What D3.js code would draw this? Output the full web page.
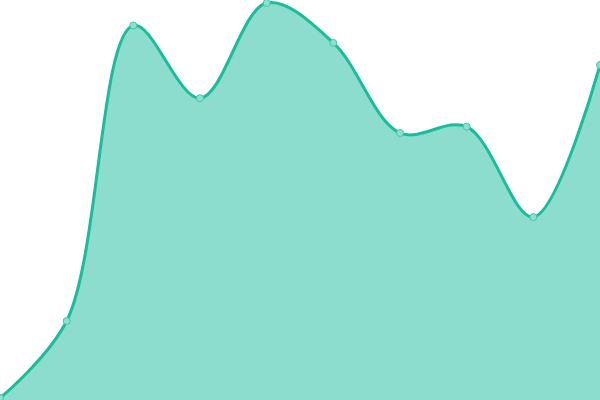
<!DOCTYPE html>
<html>
<head>
<meta charset="utf-8">
<script src="https://cdn.jsdelivr.net/npm/d3@7"></script>
<style>
  html, body { margin: 0; padding: 0; background: #fff; }
  svg { display: block; }
</style>
</head>
<body>
<div id="chart"></div>
<script>
const labels = [0, 1, 2, 3, 4, 5, 6, 7, 8, 9];
const values = [0, 19.5, 94.3, 75.9, 100, 89.9, 67.1, 68.7, 45.8, 84.3];

const width = 600,
    height = 400;

const data = labels.map((d, i) => ({ label: d, value: values[i] }));

const x = d3.scaleLinear()
    .domain([0, labels.length - 1])
    .range([0, width]);

const y = d3.scaleLinear()
    .domain([0, 100])
    .range([398, 3]);

const svg = d3.select('#chart')
    .append('svg')
    .attr('width', width)
    .attr('height', height);

const area = d3.area()
    .x(d => x(d.label))
    .y0(height)
    .y1(d => y(d.value))
    .curve(d3.curveCatmullRom);

const line = d3.line()
    .x(d => x(d.label))
    .y(d => y(d.value))
    .curve(d3.curveCatmullRom);

svg.append('path')
    .datum(data)
    .attr('d', area)
    .attr('fill', '#1abc9c')
    .attr('fill-opacity', 0.5);

svg.append('path')
    .datum(data)
    .attr('d', line)
    .attr('fill', 'none')
    .attr('stroke', '#1abc9c')
    .attr('stroke-width', 3);

svg.selectAll('.pt')
    .data(data)
    .enter().append('circle')
    .attr('class', 'pt')
    .attr('cx', d => x(d.label))
    .attr('cy', d => y(d.value))
    .attr('r', 3.5)
    .attr('fill', '#8de0cf')
    .attr('stroke', '#3cc9aa')
    .attr('stroke-width', 1);
</script>
</body>
</html>
